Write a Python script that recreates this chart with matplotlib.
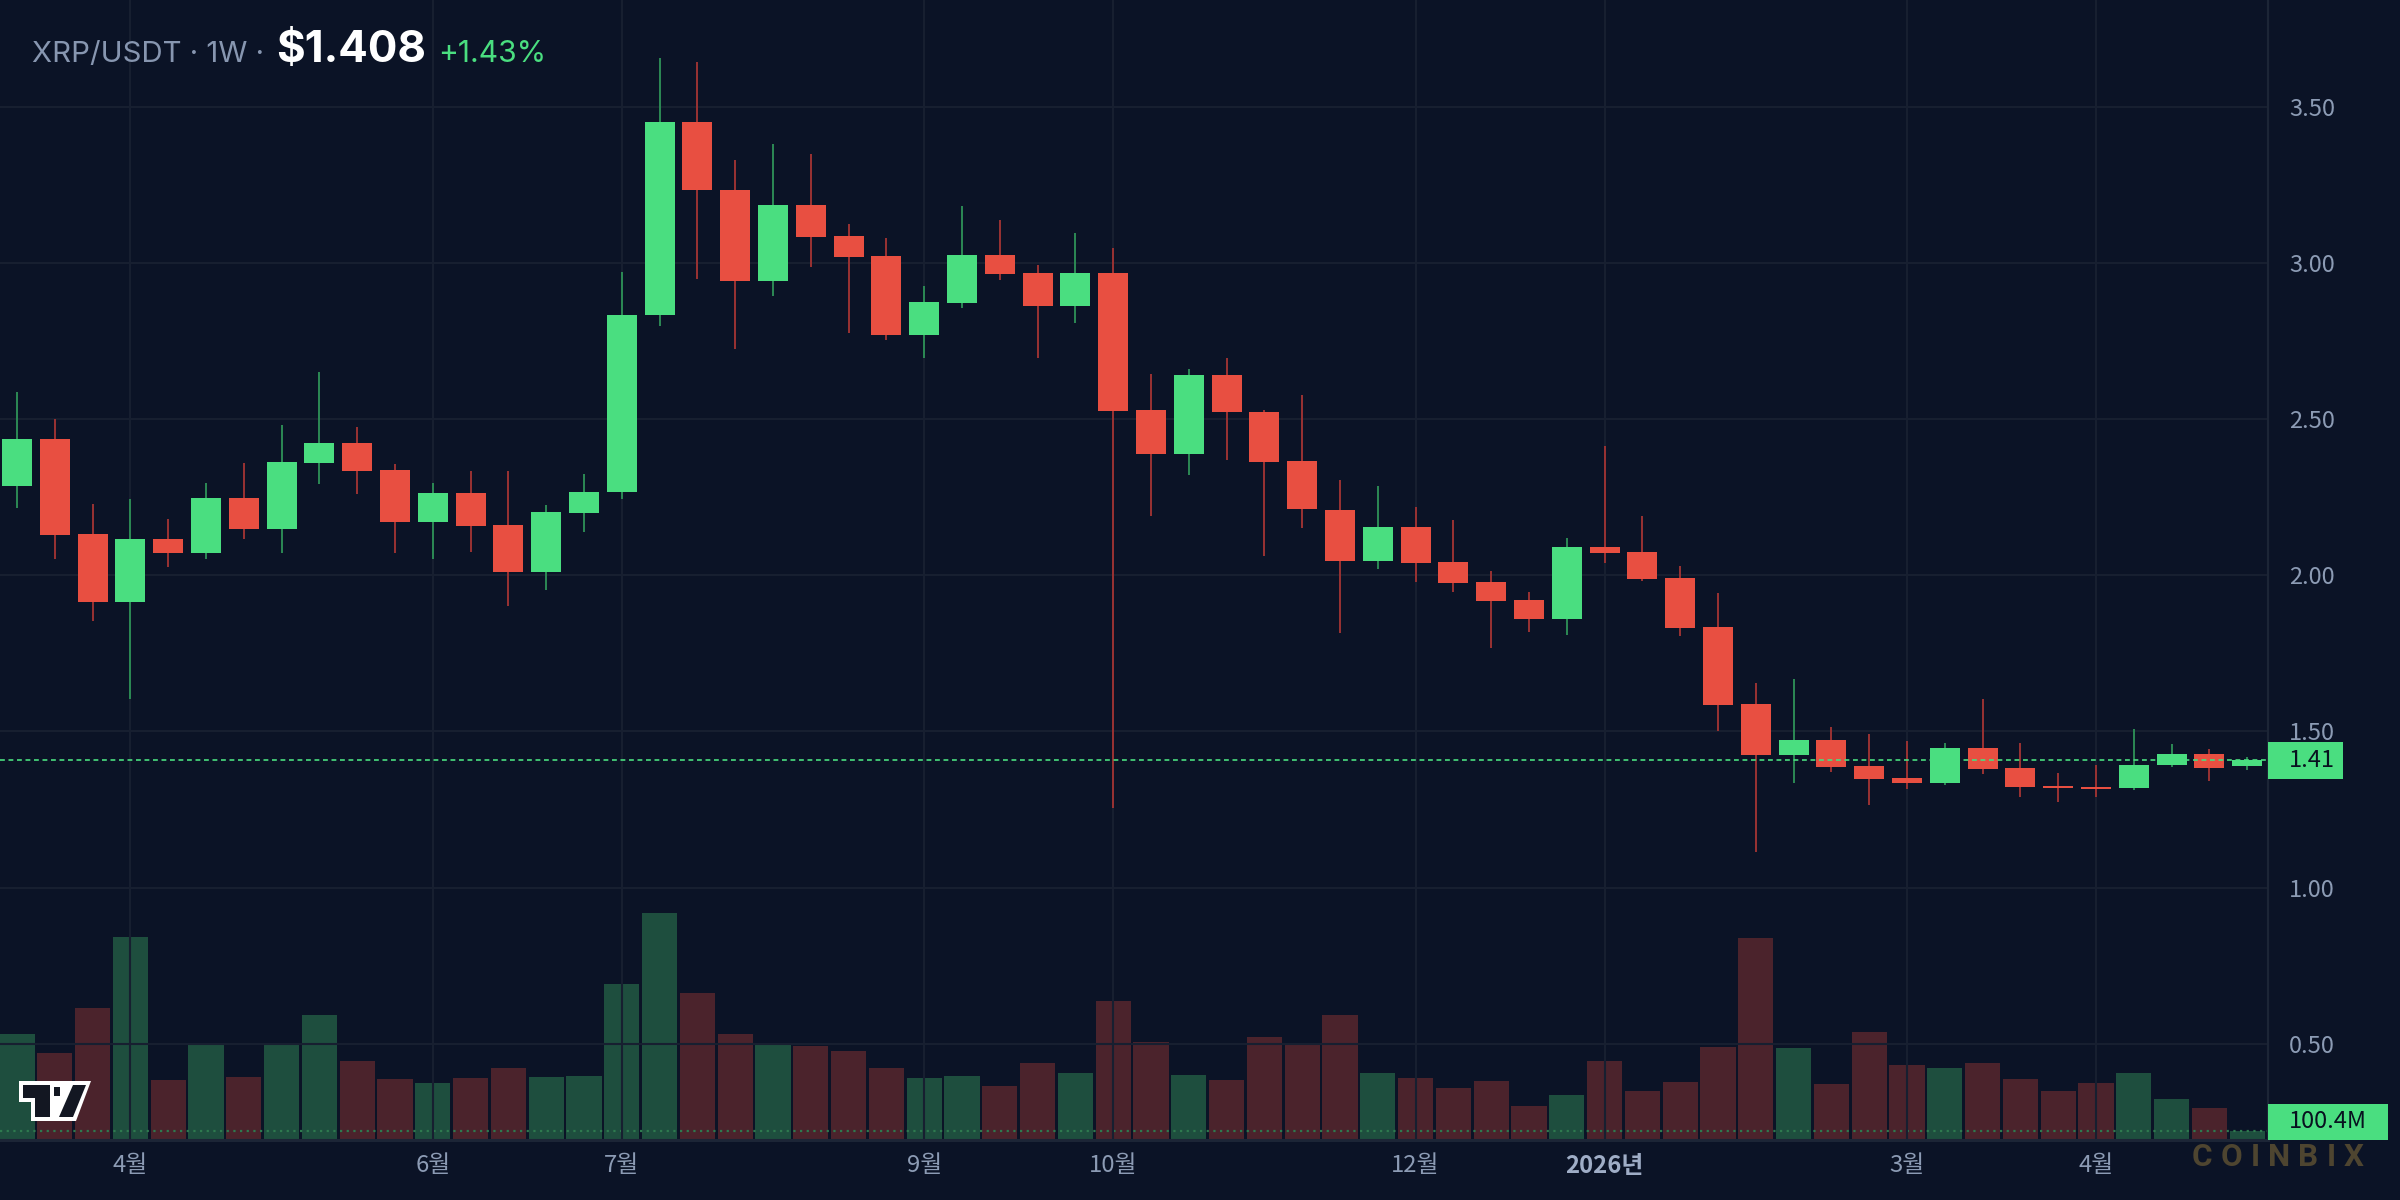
import numpy as np
import matplotlib
matplotlib.use("Agg")
import matplotlib.pyplot as plt
import matplotlib.transforms as mtransforms
from matplotlib.patches import Rectangle, Polygon

# ---------------- data (weekly XRP/USDT) ----------------
opens = [2.286, 2.437, 2.133, 1.915, 2.117, 2.072, 2.248, 2.149, 2.360, 2.424,
         2.338, 2.171, 2.264, 2.161, 2.011, 2.200, 2.268, 2.833, 3.451, 3.236,
         2.944, 3.186, 3.087, 3.023, 2.771, 2.874, 3.027, 2.970, 2.864, 2.970,
         2.529, 2.388, 2.643, 2.524, 2.365, 2.211, 2.046, 2.154, 2.042, 1.978,
         1.921, 1.861, 2.090, 2.074, 1.991, 1.834, 1.588, 1.425, 1.472, 1.389,
         1.350, 1.336, 1.447, 1.383, 1.325, 1.323, 1.320, 1.392, 1.427, 1.388]
highs = [2.587, 2.501, 2.229, 2.245, 2.181, 2.296, 2.360, 2.482, 2.652, 2.475,
         2.357, 2.296, 2.334, 2.334, 2.226, 2.325, 2.973, 3.658, 3.645, 3.329,
         3.381, 3.349, 3.126, 3.080, 2.927, 3.183, 3.139, 2.994, 3.096, 3.049,
         2.644, 2.662, 2.697, 2.531, 2.579, 2.307, 2.285, 2.218, 2.176, 2.013,
         1.946, 2.119, 2.416, 2.189, 2.029, 1.943, 1.655, 1.668, 1.514, 1.491,
         1.469, 1.462, 1.604, 1.462, 1.367, 1.392, 1.507, 1.459, 1.443, 1.418]
lows = [2.216, 2.053, 1.854, 1.604, 2.027, 2.053, 2.117, 2.072, 2.293, 2.261,
        2.072, 2.053, 2.075, 1.902, 1.953, 2.139, 2.246, 2.800, 2.950, 2.724,
        2.896, 2.987, 2.778, 2.755, 2.695, 2.857, 2.947, 2.695, 2.810, 1.255,
        2.189, 2.321, 2.371, 2.062, 2.152, 1.816, 2.021, 1.979, 1.947, 1.768,
        1.820, 1.810, 2.040, 1.982, 1.807, 1.500, 1.113, 1.336, 1.371, 1.265,
        1.316, 1.329, 1.364, 1.291, 1.275, 1.291, 1.313, 1.387, 1.342, 1.377]
closes = [2.437, 2.130, 1.915, 2.117, 2.072, 2.248, 2.149, 2.363, 2.424, 2.334,
          2.171, 2.264, 2.158, 2.011, 2.203, 2.267, 2.835, 3.451, 3.233, 2.944,
          3.186, 3.083, 3.020, 2.771, 2.877, 3.027, 2.966, 2.864, 2.970, 2.527,
          2.390, 2.643, 2.522, 2.363, 2.212, 2.046, 2.154, 2.040, 1.976, 1.919,
          1.861, 2.090, 2.072, 1.989, 1.832, 1.586, 1.425, 1.472, 1.387, 1.348,
          1.336, 1.447, 1.380, 1.323, 1.320, 1.316, 1.392, 1.427, 1.384, 1.408]
volumes_m = [1182, 970, 1472, 2264, 669, 1060, 703, 1071, 1394, 881,
             680, 636, 692, 803, 703, 714, 1740, 2532, 1640, 1182,
             1071, 1048, 993, 803, 692, 714, 602, 859, 747, 1550,
             1093, 725, 669, 1149, 1071, 1394, 747, 692, 580, 658,
             379, 502, 881, 547, 647, 1037, 2253, 1026, 625, 1205,
             837, 803, 859, 680, 547, 636, 747, 457, 357, 100.4]

tick_idx = [3, 11, 16, 24, 29, 37, 42, 50, 55]
tick_labels = ["4월", "6월", "7월", "9월", "10월", "12월", "2026년", "3월", "4월"]
price_ticks = [0.5, 1.0, 1.5, 2.0, 2.5, 3.0, 3.5]

title_pair = "XRP/USDT · 1W ·"
title_price = "$1.408"
title_change = "+1.43%"
last_price_label = "1.41"
last_volume_label = "100.4M"

# ---------------- style ----------------
BG = "#0b1326"
GRID = "#171f30"
TXT = "#8c9bb4"
UP = "#4ade80"
DN = "#e84f41"
UP_WICK = "#2c8a55"
DN_WICK = "#9a3233"
VOL_UP = "#1e4e3e"
VOL_DN = "#4b232c"
AXLINE = "#1c2536"
FONT = ["Noto Sans CJK KR", "DejaVu Sans"]

W, H = 2400, 1200
fig = plt.figure(figsize=(12, 6), dpi=200, facecolor=BG)


def fx(px):
    return px / W


def fy(py):
    return 1 - py / H


ax_right = 2268
ax_bottom = 1140
ax = fig.add_axes([0, fy(ax_bottom), fx(ax_right), ax_bottom / H])
ax2 = ax.twinx()
ax.set_zorder(2)
ax2.set_zorder(1)
ax.patch.set_visible(False)
ax2.set_facecolor(BG)

n = len(opens)
x = np.arange(n)
o = np.array(opens); c = np.array(closes); hi = np.array(highs); lo = np.array(lows)
up = c >= o

# price scale: 312.2 px per 1.0, 3.50 at y=107.1 px
ppu = 312.2
ytop = 3.5 + 107.1 / ppu
ybot = 3.5 - (ax_bottom - 107.1) / ppu
ax.set_ylim(ybot, ytop)
step = 37.8
x0 = 17.0
ax.set_xlim(-x0 / step, (ax_right - x0) / step)

# wicks
ax.vlines(x[up], lo[up], hi[up], color=UP_WICK, lw=0.7, zorder=3)
ax.vlines(x[~up], lo[~up], hi[~up], color=DN_WICK, lw=0.7, zorder=3)
# bodies
body_bottom = np.minimum(o, c)
body_h = np.maximum(np.abs(c - o), 0.006)
ax.bar(x, body_h, bottom=body_bottom, width=0.79,
       color=np.where(up, UP, DN), linewidth=0, zorder=4)

# volume
vol = np.array(volumes_m, dtype=float)
vol_per_px = 100.4 / 9.0
ax2.set_ylim(0, ax_bottom * vol_per_px)
ax2.bar(x, vol, width=0.93, color=np.where(up, VOL_UP, VOL_DN), linewidth=0, zorder=2)
ax2.axhline(vol[-1], color="#2e7a4f", lw=0.8, ls=(0, (1, 2)), zorder=3)
ax2.set_yticks([])
for s in ax2.spines.values():
    s.set_visible(False)

# last price dotted line
ax.axhline(closes[-1], color=UP, lw=0.6, ls=(0, (2.9, 2.2)), zorder=6)

# axes / grid
ax.yaxis.tick_right()
ax.set_yticks(price_ticks)
ax.set_yticklabels([f"{v:.2f}" for v in price_ticks])
ax.set_xticks(tick_idx)
ax.set_xticklabels(tick_labels)
ax.grid(True, color=GRID, lw=0.75, zorder=0)
ax.set_axisbelow(True)
ax.tick_params(axis="y", length=0, pad=7.6, labelsize=8.5, labelcolor=TXT)
ax.tick_params(axis="x", length=0, pad=5.0, labelsize=8.6, labelcolor=TXT)
for lab in ax.get_yticklabels() + ax.get_xticklabels():
    lab.set_family(FONT)
for lab in ax.get_xticklabels():
    if lab.get_text().endswith("년"):
        lab.set_fontweight("bold")
        lab.set_color("#9fadc6")
for side in ["top", "left"]:
    ax.spines[side].set_visible(False)
ax.spines["right"].set_color(AXLINE)
ax.spines["right"].set_linewidth(0.8)
ax.spines["bottom"].set_color(AXLINE)
ax.spines["bottom"].set_linewidth(1.1)

# last price box
bt = mtransforms.blended_transform_factory(fig.transFigure, ax.transData)
bh = 37 / ppu
ax.add_patch(Rectangle((fx(ax_right), closes[-1] - bh / 2), fx(75), bh,
                       transform=bt, facecolor=UP, edgecolor="none",
                       clip_on=False, zorder=10))
ax.text(fx(2289), closes[-1], last_price_label, transform=bt, ha="left", va="center",
        color="#08111f", fontsize=8.5, family=FONT, zorder=11, clip_on=False)

# last volume box
fig.patches.append(Rectangle((fx(ax_right), fy(1140)), fx(120), 36 / H,
                             transform=fig.transFigure, facecolor=UP,
                             edgecolor="none", zorder=10))
fig.text(fx(2289), fy(1122), last_volume_label, ha="left", va="center",
         color="#08111f", fontsize=8.5, family=FONT, zorder=11)

# title
fig.canvas.draw()
r = fig.canvas.get_renderer()
t1 = fig.text(fx(32), fy(62), title_pair, ha="left", va="baseline",
              color="#8796b0", fontsize=10.6, family=["Inter", "DejaVu Sans"])
bb = t1.get_window_extent(r)
t2 = fig.text(bb.x1 / W + fx(12), fy(62), title_price, ha="left", va="baseline",
              color="#ffffff", fontsize=15.8, fontweight="bold",
              family=["Inter", "DejaVu Sans"])
bb = t2.get_window_extent(r)
t3 = fig.text(bb.x1 / W + fx(12), fy(62), title_change, ha="left", va="baseline",
              color=UP, fontsize=10.8, family=["Inter", "DejaVu Sans"])

# TradingView-like logo
def pts(lst):
    return [(fx(a), fy(b)) for a, b in lst]

fig.patches.append(Polygon(pts([(19, 1081), (91, 1081), (76, 1121), (31, 1121),
                                (31, 1102), (19, 1102)]),
                           closed=True, transform=fig.transFigure,
                           facecolor="white", edgecolor="none", zorder=8))
fig.patches.append(Polygon(pts([(23, 1085), (50, 1085), (50, 1117), (35, 1117),
                                (35, 1098), (23, 1098)]),
                           closed=True, transform=fig.transFigure,
                           facecolor="#131722", edgecolor="none", zorder=9))
fig.patches.append(Polygon(pts([(73, 1085), (86, 1085), (73, 1117), (59, 1117)]),
                           closed=True, transform=fig.transFigure,
                           facecolor="#131722", edgecolor="none", zorder=9))
fig.patches.append(Rectangle((fx(54), fy(1096)), fx(6), 9 / H,
                             transform=fig.transFigure, facecolor="#131722",
                             edgecolor="none", zorder=9))

# COINBIX watermark
wm = "COINBIX"
wm_x0, wm_x1 = 2192, 2364
letters = [fig.text(0, fy(1157), ch, ha="left", va="center", color="#4e4530",
                    fontsize=11.3, fontweight="bold", family=["Roboto", "DejaVu Sans"],
                    zorder=12) for ch in wm]
widths = [t.get_window_extent(r).width for t in letters]
gap = (wm_x1 - wm_x0 - sum(widths)) / (len(wm) - 1)
cur = wm_x0
for t, w_ in zip(letters, widths):
    t.set_x(fx(cur))
    cur += w_ + gap

fig.savefig("out.png", dpi=200, facecolor=BG)
